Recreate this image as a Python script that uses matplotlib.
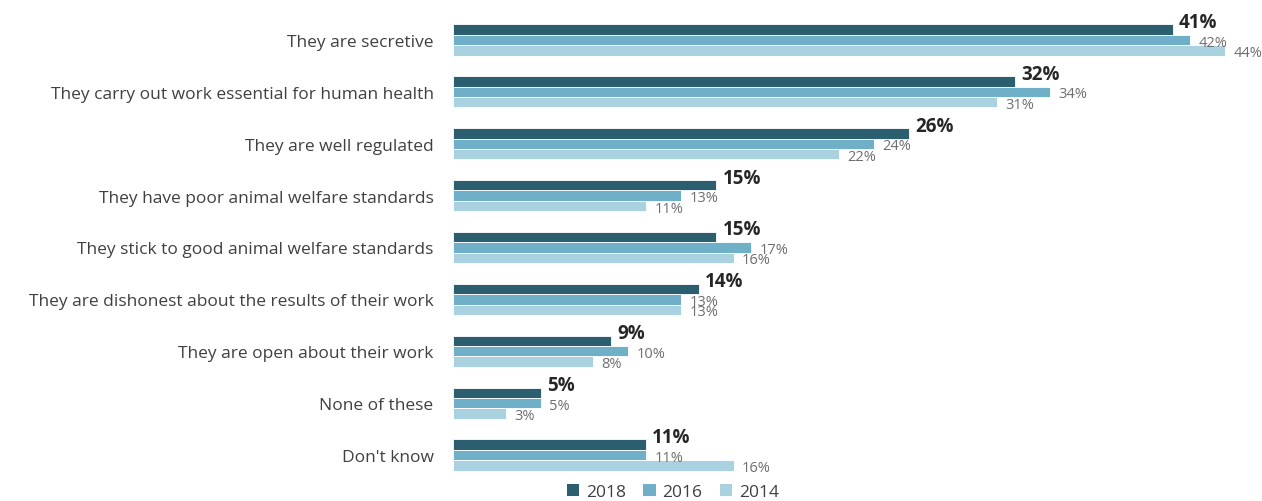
import matplotlib
matplotlib.use("Agg")
import matplotlib.pyplot as plt
import numpy as np
from matplotlib.patches import Patch

plt.rcParams['font.family'] = ['Open Sans', 'DejaVu Sans']

categories = [
    "They are secretive",
    "They carry out work essential for human health",
    "They are well regulated",
    "They have poor animal welfare standards",
    "They stick to good animal welfare standards",
    "They are dishonest about the results of their work",
    "They are open about their work",
    "None of these",
    "Don't know",
]
years = ["2018", "2016", "2014"]
values_2018 = [41, 32, 26, 15, 15, 14, 9, 5, 11]
values_2016 = [42, 34, 24, 13, 17, 13, 10, 5, 11]
values_2014 = [44, 31, 22, 11, 16, 13, 8, 3, 16]

colors = ["#2b5f6f", "#6fb0c8", "#a9d1df"]
series = [values_2018, values_2016, values_2014]

fig = plt.figure(figsize=(12.62, 5.02), dpi=100)
ax = fig.add_axes([453 / 1262, 20 / 502, (1255 - 453) / 1262, (487 - 20) / 502])

y = np.arange(len(categories))
bar_h = 0.2
offsets = [-bar_h, 0, bar_h]

for k, (vals, col) in enumerate(zip(series, colors)):
    ax.barh(y + offsets[k], vals, height=bar_h, color=col,
            edgecolor="white", linewidth=0.6)
    for yi, v in zip(y, vals):
        if k == 0:
            ax.annotate(f"{v}%", (v, yi + offsets[k]), xytext=(4.5, 5.5),
                        textcoords="offset points", ha="left", va="center",
                        fontsize=13.5, fontweight="bold", color="#262626")
        else:
            ax.annotate(f"{v}%", (v, yi + offsets[k]), xytext=(6, -1.5),
                        textcoords="offset points", ha="left", va="center",
                        fontsize=10.5, color="#6e6e6e")

ax.set_xlim(0, 45.7)
ax.set_ylim(len(categories) - 0.5, -0.5)
ax.set_yticks(y)
ax.set_yticklabels(categories, fontsize=12.5, color="#404040")
ax.tick_params(axis="y", length=0, pad=14)
ax.set_xticks([])
for s in ax.spines.values():
    s.set_visible(False)

handles = [Patch(facecolor=c, edgecolor="none") for c in colors]
fig.legend(handles, years, loc="center", bbox_to_anchor=(673 / 1262, 9 / 502),
           ncol=3, frameon=False, fontsize=12.5, handlelength=0.7, handleheight=0.7,
           handletextpad=0.4, columnspacing=1.0, labelcolor="#404040")

fig.savefig("out.png", dpi=100)
